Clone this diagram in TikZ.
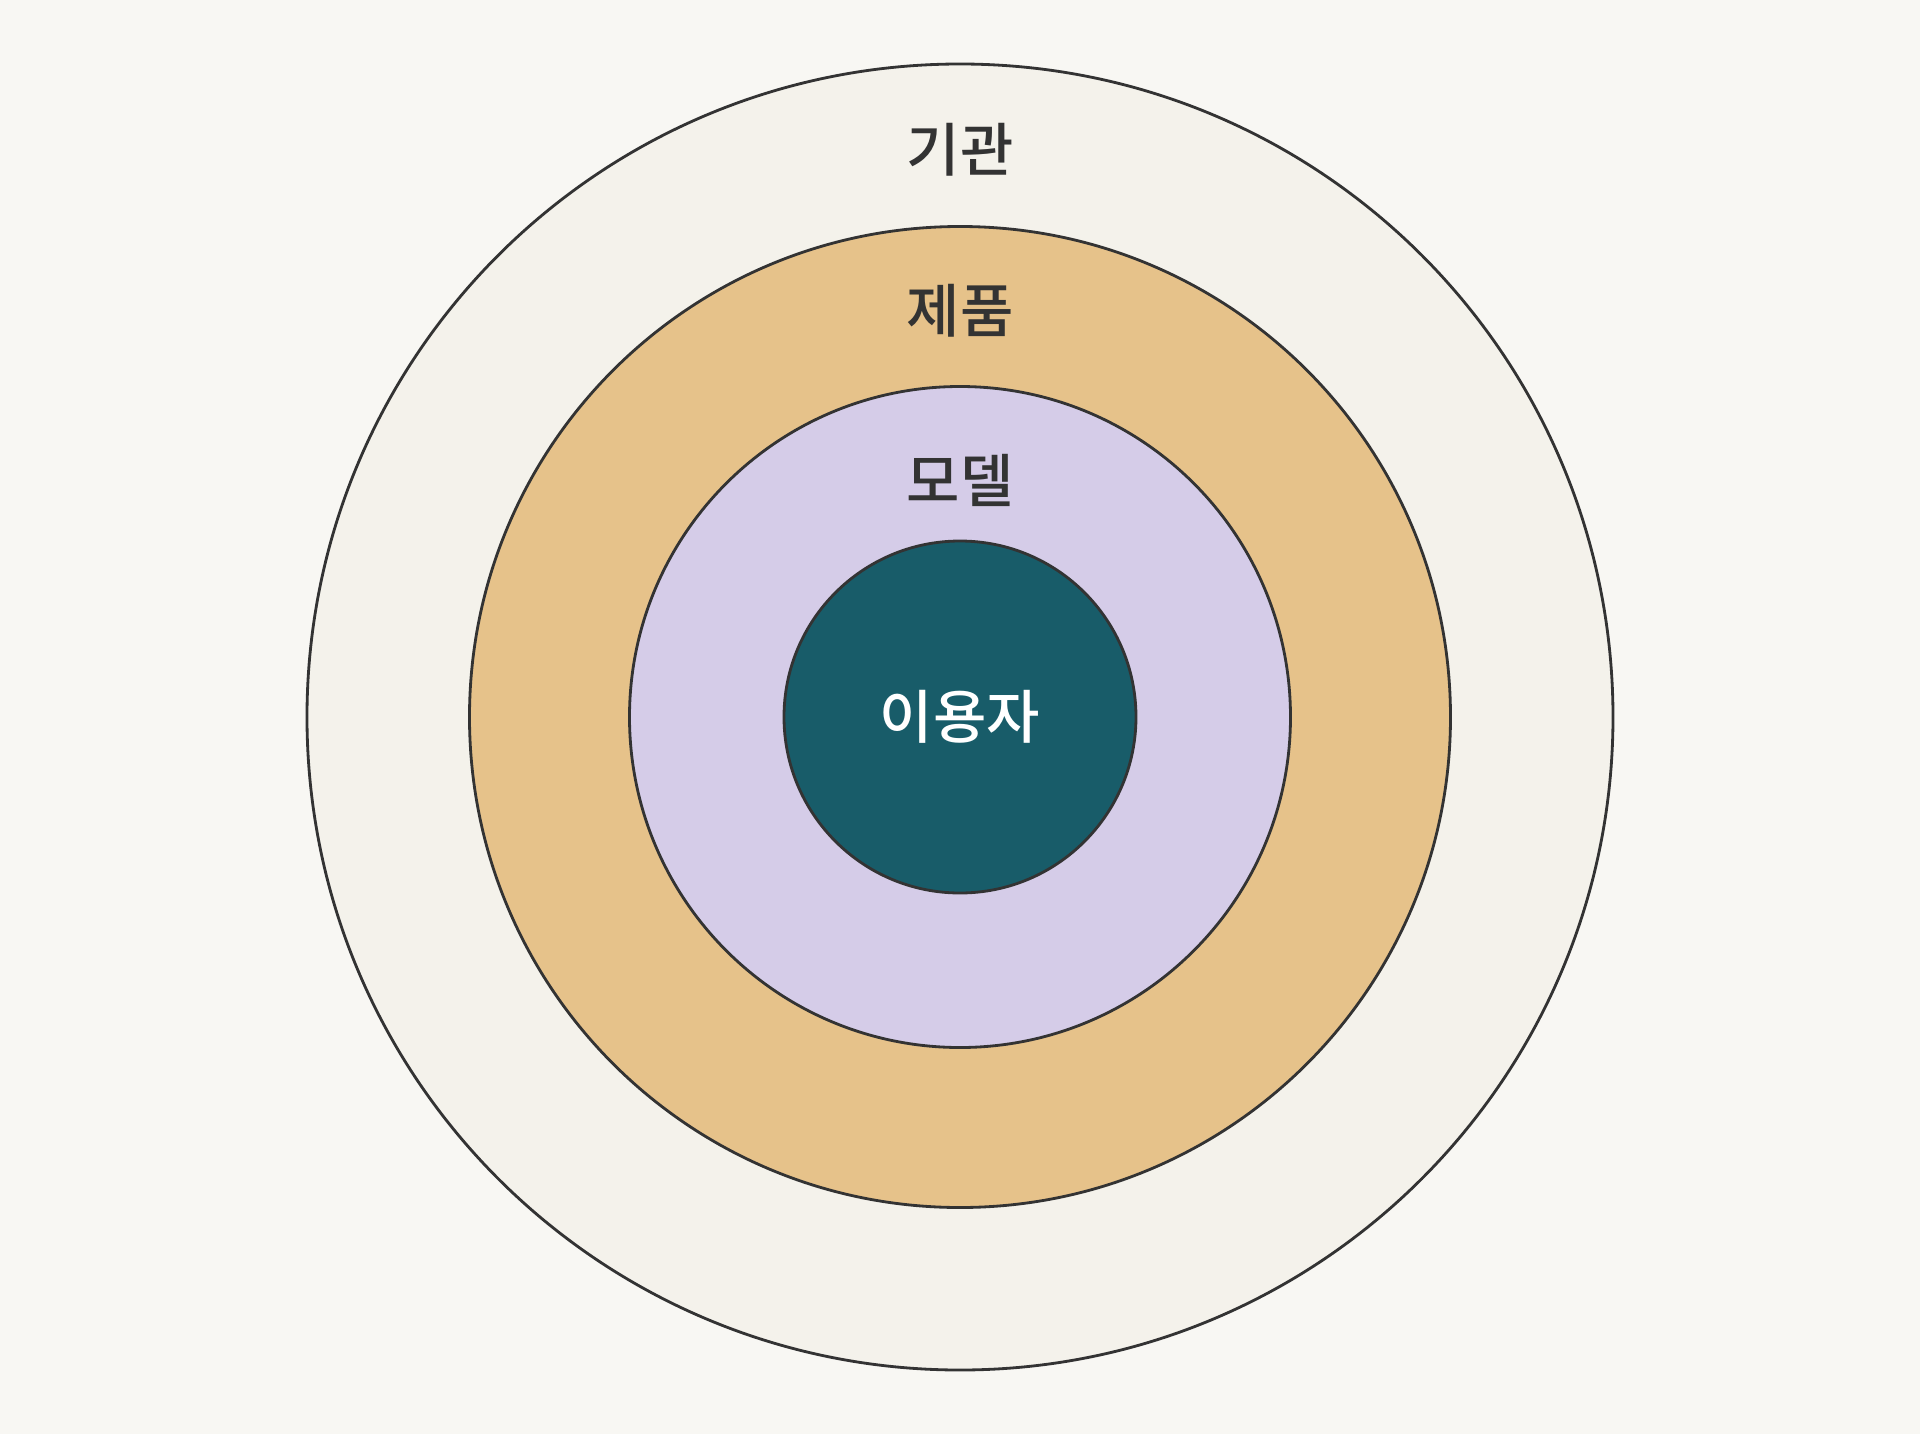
\documentclass[tikz,border=0pt]{standalone}
\usepackage{fontspec}
\setmainfont{Noto Sans CJK KR}[UprightFont={* Medium}]
\usepackage{tikz}
\usetikzlibrary{positioning}
\usepackage{xcolor}
\definecolor{bgpaper}{HTML}{F8F7F3}
\definecolor{orgfill}{HTML}{F4F2EB}
\definecolor{prodfill}{HTML}{E6C28A}
\definecolor{modelfill}{HTML}{D5CCE8}
\definecolor{userfill}{HTML}{185C69}
\definecolor{inkgray}{HTML}{333333}
\tikzset{
  ring/.style={circle, draw=inkgray, line width=0.8pt, inner sep=0pt},
  ringlabel/.style={font=\fontsize{16.5}{18}\selectfont, text=inkgray, inner sep=0pt}
}

\begin{document}
\begin{tikzpicture}
\fill [bgpaper] (-9.6,-7.17) rectangle (9.6,7.17);
\useasboundingbox (-9.6,-7.17) rectangle (9.6,7.17);
% rings, outside in
\node [ring, fill=orgfill, minimum size=13.06cm] (org) at (0,0) {};
\node [ring, fill=prodfill, minimum size=9.81cm] (prod) at (0,0) {};
\node [ring, fill=modelfill, minimum size=6.61cm] (model) at (0,0) {};
\node [ring, fill=userfill, minimum size=3.52cm] (user) at (0,0) {};
% labels
\node [ringlabel] (orglabel) at (0,5.67) {기관};
\node [ringlabel] (prodlabel) at (0,4.06) {제품};
\node [ringlabel] (modellabel) at (0,2.37) {모델};
\node [ringlabel, text=white] (userlabel) at (user.center) {이용자};
\end{tikzpicture}
\end{document}
